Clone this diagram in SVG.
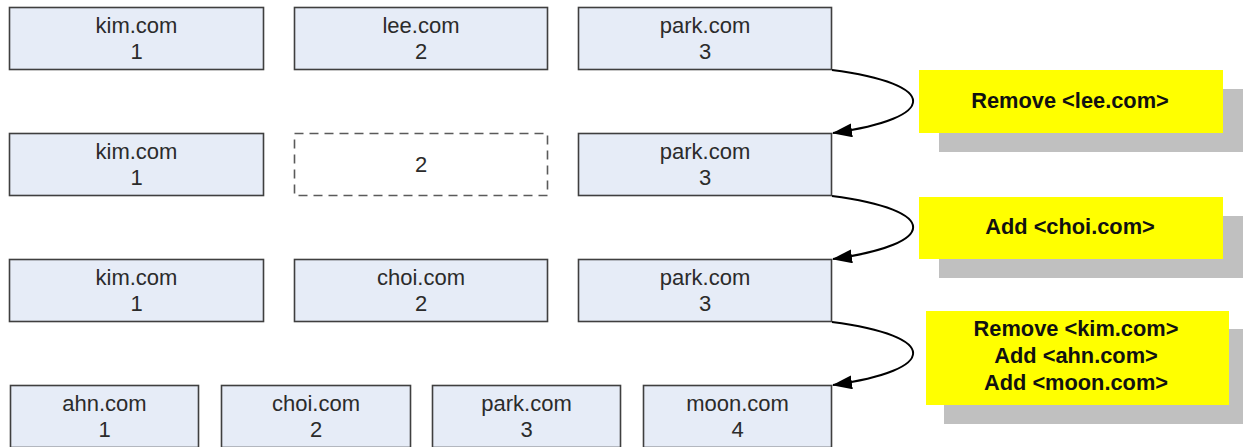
<svg xmlns="http://www.w3.org/2000/svg" width="1243" height="447" viewBox="0 0 1243 447">
<style>
.box{fill:#E6ECF7;stroke:#3F3F3F;stroke-width:1.6}
.dash{fill:#FFFFFF;stroke:#5A5A5A;stroke-width:1.6;stroke-dasharray:9 6}
.t{font-family:"Liberation Sans",Arial,sans-serif;font-size:22px;fill:#2B2B2B;text-anchor:middle}
.note{fill:#FFFF00}
.shadow{fill:#C0C0C0}
.nt{font-family:"Liberation Sans",Arial,sans-serif;font-size:21.8px;font-weight:bold;fill:#111111;text-anchor:middle}
.conn{fill:none;stroke:#000000;stroke-width:2}
</style>
<defs>
<marker id="arrow" viewBox="0 0 20 14" refX="19" refY="7" markerWidth="20" markerHeight="14" markerUnits="userSpaceOnUse" orient="auto">
<path d="M0,0 L20,7 L0,14 Z" fill="#000000"/>
</marker>
</defs>
<rect width="1243" height="447" fill="#FFFFFF"/>

<g id="row1-kim"><rect class="box" x="9.5" y="7.5" width="254" height="62"/><text class="t" x="136.5" y="33">kim.com</text><text class="t" x="136.5" y="59">1</text></g>
<g id="row1-lee"><rect class="box" x="294.5" y="7.5" width="253" height="62"/><text class="t" x="421" y="33">lee.com</text><text class="t" x="421" y="59">2</text></g>
<g id="row1-park"><rect class="box" x="578.5" y="7.5" width="253" height="62"/><text class="t" x="705" y="33">park.com</text><text class="t" x="705" y="59">3</text></g>

<g id="row2-kim"><rect class="box" x="9.5" y="133.5" width="254" height="62"/><text class="t" x="136.5" y="159">kim.com</text><text class="t" x="136.5" y="185">1</text></g>
<g id="row2-empty"><rect class="dash" x="294.5" y="133.5" width="253" height="62"/><text class="t" x="421" y="172">2</text></g>
<g id="row2-park"><rect class="box" x="578.5" y="133.5" width="253" height="62"/><text class="t" x="705" y="159">park.com</text><text class="t" x="705" y="185">3</text></g>

<g id="row3-kim"><rect class="box" x="9.5" y="259.5" width="254" height="62"/><text class="t" x="136.5" y="285">kim.com</text><text class="t" x="136.5" y="311">1</text></g>
<g id="row3-choi"><rect class="box" x="294.5" y="259.5" width="253" height="62"/><text class="t" x="421" y="285">choi.com</text><text class="t" x="421" y="311">2</text></g>
<g id="row3-park"><rect class="box" x="578.5" y="259.5" width="253" height="62"/><text class="t" x="705" y="285">park.com</text><text class="t" x="705" y="311">3</text></g>

<g id="row4-ahn"><rect class="box" x="10.5" y="385.5" width="188" height="62"/><text class="t" x="104.5" y="411">ahn.com</text><text class="t" x="104.5" y="437">1</text></g>
<g id="row4-choi"><rect class="box" x="221.5" y="385.5" width="189" height="62"/><text class="t" x="316" y="411">choi.com</text><text class="t" x="316" y="437">2</text></g>
<g id="row4-park"><rect class="box" x="432.5" y="385.5" width="188" height="62"/><text class="t" x="526.5" y="411">park.com</text><text class="t" x="526.5" y="437">3</text></g>
<g id="row4-moon"><rect class="box" x="643.5" y="385.5" width="188" height="62"/><text class="t" x="737.5" y="411">moon.com</text><text class="t" x="737.5" y="437">4</text></g>

<g id="connectors">
<path class="conn" d="M832,70 C940,84 940,118 833,133" marker-end="url(#arrow)"/>
<path class="conn" d="M832,196 C940,210 940,244 833,259" marker-end="url(#arrow)"/>
<path class="conn" d="M832,322 C940,336 940,370 833,385" marker-end="url(#arrow)"/>
</g>

<g id="note1"><rect class="shadow" x="939" y="89" width="304" height="63"/><rect class="note" x="919" y="70" width="304" height="63"/><text class="nt" x="1070" y="108">Remove &lt;lee.com&gt;</text></g>
<g id="note2"><rect class="shadow" x="939" y="216" width="304" height="62"/><rect class="note" x="919" y="197" width="304" height="62"/><text class="nt" x="1070" y="234">Add &lt;choi.com&gt;</text></g>
<g id="note3"><rect class="shadow" x="944" y="329" width="299" height="95"/><rect class="note" x="926" y="311" width="303" height="94"/><text class="nt" x="1076" y="336">Remove &lt;kim.com&gt;</text><text class="nt" x="1076" y="363">Add &lt;ahn.com&gt;</text><text class="nt" x="1076" y="390">Add &lt;moon.com&gt;</text></g>
</svg>
